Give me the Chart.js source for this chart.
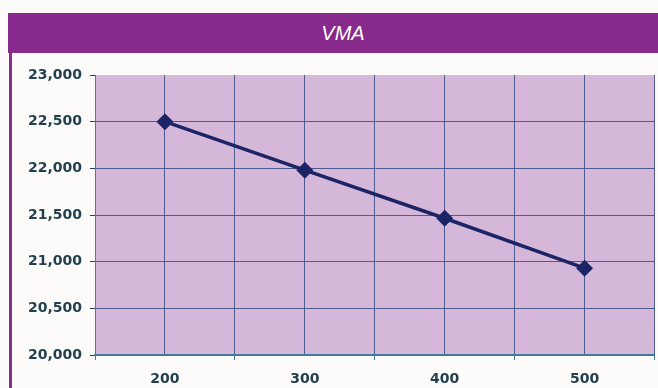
<!DOCTYPE html>
<html lang="en">
<head>
    <meta charset="UTF-8">
    <title>VMA</title>
    <script src="https://cdn.jsdelivr.net/npm/chart.js"></script>
    <style>
        body { margin: 0; background: #fdfbfa; width: 658px; height: 388px; overflow: hidden; position: relative; }
        #banner { position: absolute; left: 8px; top: 13px; width: 650px; height: 40px; background: #872a8b; }
        #banner span { position: absolute; left: 335px; top: 50%; transform: translate(-50%, -50%);
            color: #fff; font: italic 20px "Liberation Sans", Arial, sans-serif; }
        #edge { position: absolute; left: 9px; top: 53px; width: 3px; height: 335px; background: #8a2f8e; }
        #wrap { position: absolute; left: 12px; top: 53px; width: 652px; height: 335px; }
    </style>
</head>
<body>
    <div id="banner"><span>VMA</span></div>
    <div id="edge"></div>
    <div id="wrap"><canvas id="chart" width="652" height="335"></canvas></div>

    <script>
        // data
        const speeds = [200, 300, 400, 500];
        const vmaValues = [22500, 21980, 21465, 20930];

        const gridColor = '#4e5c90';
        const labelColor = '#22404e';

        // lavender plot background
        const plotBg = {
            id: 'plotBg',
            beforeDraw(chart) {
                const { ctx, chartArea: a } = chart;
                ctx.save();
                ctx.fillStyle = '#d4b7d9';
                ctx.fillRect(a.left, a.top, a.right - a.left, a.bottom - a.top);
                ctx.strokeStyle = '#c9c3cc';
                ctx.lineWidth = 1;
                ctx.strokeRect(a.left + 0.5, a.top + 0.5, a.right - a.left - 1, a.bottom - a.top);
                ctx.restore();
            }
        };

        new Chart(document.getElementById('chart'), {
            type: 'line',
            data: {
                datasets: [{
                    label: 'VMA',
                    data: speeds.map((s, i) => ({ x: s, y: vmaValues[i] })),
                    borderColor: '#1c2466',
                    backgroundColor: '#1c2466',
                    borderWidth: 3.5,
                    pointStyle: 'rectRot',
                    pointRadius: 6,
                    tension: 0
                }]
            },
            options: {
                responsive: false,
                animation: false,
                layout: { padding: { top: 22, right: 0, left: 0, bottom: 0 } },
                plugins: { legend: { display: false }, tooltip: { enabled: false } },
                scales: {
                    x: {
                        type: 'linear',
                        min: 150,
                        max: 550,
                        afterFit(scale) {
                            scale.height = 33;
                            scale.paddingLeft = 0;
                            scale.paddingRight = 0;
                        },
                        ticks: {
                            stepSize: 50,
                            autoSkip: false,
                            maxRotation: 0,
                            padding: 11,
                            color: labelColor,
                            font: { family: 'DejaVu Sans', weight: 'bold', size: 14 },
                            callback: v => (v % 100 === 0 && v >= 200 && v <= 500) ? v : ''
                        },
                        grid: {
                            color: ctx => (ctx.tick && ctx.tick.value === 150) ? 'rgba(0,0,0,0)' : gridColor,
                            tickColor: ctx => (ctx.tick && ctx.tick.value % 100 !== 0) ? '#3f7a9a' : 'rgba(0,0,0,0)',
                            tickLength: 5
                        },
                        border: { color: '#3f7a9a', width: 2 }
                    },
                    y: {
                        min: 20000,
                        max: 23000,
                        afterFit(scale) {
                            scale.width = 83;
                            scale.paddingTop = 0;
                            scale.paddingBottom = 0;
                        },
                        ticks: {
                            stepSize: 500,
                            autoSkip: false,
                            padding: 8,
                            color: labelColor,
                            font: { family: 'DejaVu Sans', weight: 'bold', size: 14 },
                            callback: v => v.toLocaleString('en-US')
                        },
                        grid: {
                            color: ctx => (ctx.tick && ctx.tick.value === 23000) ? 'rgba(0,0,0,0)' : gridColor,
                            tickColor: '#2a3a5a',
                            tickLength: 5
                        },
                        border: { color: '#4a7aa0', width: 1 }
                    }
                }
            },
            plugins: [plotBg]
        });
    </script>
</body>
</html>
